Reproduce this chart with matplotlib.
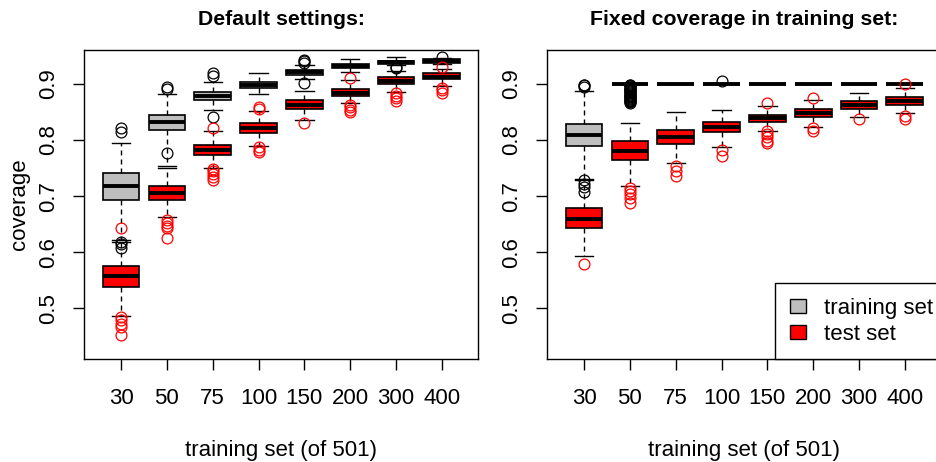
import matplotlib.pyplot as plt
from matplotlib.patches import Patch

plt.rcParams['font.family'] = ['Liberation Sans', 'DejaVu Sans']

categories = ['30', '50', '75', '100', '150', '200', '300', '400']

# Default settings: training set boxes
def_train_lo = [0.622, 0.754, 0.853, 0.881, 0.908, 0.921, 0.933, 0.935]
def_train_q1 = [0.693, 0.818, 0.871, 0.892, 0.9155, 0.9275, 0.935, 0.9373]
def_train_med = [0.718, 0.8325, 0.8785, 0.898, 0.920, 0.931, 0.938, 0.9403]
def_train_q3 = [0.7405, 0.844, 0.8855, 0.9035, 0.924, 0.935, 0.941, 0.9434]
def_train_hi = [0.795, 0.8815, 0.9036, 0.9185, 0.934, 0.9434, 0.947, 0.946]
def_train_out = [[0.821, 0.814, 0.618, 0.614, 0.608], [0.894, 0.890, 0.777],
                 [0.919, 0.913, 0.841], [], [0.943, 0.940, 0.937, 0.9005],
                 [], [0.930, 0.928], [0.9478]]

# Default settings: test set boxes
def_test_lo = [0.487, 0.6625, 0.7505, 0.789, 0.8355, 0.865, 0.886, 0.896]
def_test_q1 = [0.5373, 0.6933, 0.7732, 0.8118, 0.8545, 0.878, 0.8995, 0.9078]
def_test_med = [0.558, 0.7052, 0.782, 0.8206, 0.862, 0.884, 0.9053, 0.9124]
def_test_q3 = [0.5747, 0.7181, 0.791, 0.8296, 0.871, 0.890, 0.9115, 0.9185]
def_test_hi = [0.618, 0.750, 0.8165, 0.852, 0.8876, 0.9066, 0.923, 0.926]
def_test_out = [[0.643, 0.484, 0.479, 0.473, 0.467, 0.452],
                [0.657, 0.652, 0.647, 0.643, 0.625],
                [0.8207, 0.749, 0.744, 0.739, 0.734, 0.729],
                [0.859, 0.855, 0.7868, 0.7821, 0.778], [0.8307],
                [0.9096, 0.862, 0.858, 0.854, 0.850],
                [0.884, 0.879, 0.874, 0.870], [0.930, 0.893, 0.888, 0.883]]

# Fixed coverage: training set boxes
fix_train_lo = [0.7304, 0.9, 0.9, 0.9, 0.9, 0.9, 0.9, 0.9]
fix_train_q1 = [0.789, 0.9, 0.9, 0.9, 0.9, 0.9, 0.9, 0.9]
fix_train_med = [0.8095, 0.9, 0.9, 0.9, 0.9, 0.9, 0.9, 0.9]
fix_train_q3 = [0.829, 0.9, 0.9, 0.9, 0.9, 0.9, 0.9, 0.9]
fix_train_hi = [0.8868, 0.9, 0.9, 0.9, 0.9, 0.9, 0.9, 0.9]
fix_train_out = [[0.8985, 0.897, 0.895, 0.728, 0.722, 0.716, 0.708],
                 [0.8985, 0.897, 0.8955, 0.894, 0.8925, 0.891, 0.8895, 0.888,
                  0.8865, 0.885, 0.8835, 0.882, 0.8805, 0.879, 0.8775, 0.876,
                  0.8745, 0.873, 0.8715, 0.870, 0.8685, 0.867, 0.8655],
                 [], [0.9047], [], [], [], []]

# Fixed coverage: test set boxes
fix_test_lo = [0.5934, 0.7172, 0.7589, 0.7875, 0.8167, 0.8232, 0.8405, 0.847]
fix_test_q1 = [0.643, 0.7636, 0.7934, 0.8136, 0.8321, 0.8411, 0.8554, 0.8619]
fix_test_med = [0.6595, 0.7796, 0.8054, 0.8232, 0.8381, 0.8476, 0.8619, 0.8685]
fix_test_q3 = [0.6786, 0.7975, 0.8172, 0.8321, 0.844, 0.8542, 0.8685, 0.8756]
fix_test_hi = [0.729, 0.8304, 0.8493, 0.853, 0.8595, 0.8708, 0.8827, 0.8929]
fix_test_out = [[0.579], [0.714, 0.709, 0.703, 0.696, 0.6875],
                [0.7542, 0.744, 0.7363], [0.7827, 0.772],
                [0.8649, 0.8155, 0.8107, 0.8048, 0.7988, 0.7946],
                [0.8738, 0.8214, 0.8155], [0.8375], [0.8988, 0.8423, 0.8375]]

GRAY = '#BEBEBE'
RED = '#FF0000'
FS = 16


def make_stats(lo, q1, med, q3, hi, out):
    return [dict(whislo=a, q1=b, med=c, q3=d, whishi=e, fliers=f)
            for a, b, c, d, e, f in zip(lo, q1, med, q3, hi, out)]


def draw_boxes(ax, stats, fill, flier_col, z):
    ax.bxp(stats, positions=range(1, len(stats) + 1), widths=0.8,
           patch_artist=True, manage_ticks=False, capwidths=0.4, zorder=z,
           boxprops=dict(facecolor=fill, edgecolor='black', linewidth=1.2),
           medianprops=dict(color='black', linewidth=2.8, solid_capstyle='butt'),
           whiskerprops=dict(color='black', linewidth=1, linestyle=(0, (3.6, 2.9))),
           capprops=dict(color='black', linewidth=1),
           flierprops=dict(marker='o', markerfacecolor='none',
                           markeredgecolor=flier_col, markersize=7.8,
                           markeredgewidth=0.9))


def style_axes(ax, title):
    ax.set_xlim(0.19, 8.79)
    ax.set_ylim(0.41, 0.96)
    ax.set_xticks(range(1, 9))
    ax.set_xticklabels(categories)
    ax.set_yticks([0.5, 0.6, 0.7, 0.8, 0.9])
    ax.set_yticklabels(['0.5', '0.6', '0.7', '0.8', '0.9'], rotation=90, va='center')
    ax.tick_params(axis='both', length=8, width=1, labelsize=FS)
    ax.tick_params(axis='x', pad=13)
    ax.tick_params(axis='y', pad=10)
    ax.set_xlabel('training set (of 501)', fontsize=FS)
    ax.xaxis.set_label_coords(0.5, -0.261)
    ax.set_title(title, fontsize=15.3, fontweight='bold', pad=18)
    for sp in ax.spines.values():
        sp.set_linewidth(1)


fig = plt.figure(figsize=(9.36, 4.62), dpi=100)
ax1 = fig.add_axes([84 / 936, 103 / 462, 394 / 936, 309 / 462])
ax2 = fig.add_axes([547 / 936, 103 / 462, 394 / 936, 309 / 462])

draw_boxes(ax1, make_stats(def_train_lo, def_train_q1, def_train_med, def_train_q3,
                           def_train_hi, def_train_out), GRAY, 'black', 2)
draw_boxes(ax1, make_stats(def_test_lo, def_test_q1, def_test_med, def_test_q3,
                           def_test_hi, def_test_out), RED, RED, 3)
style_axes(ax1, 'Default settings:')
ax1.set_ylabel('coverage', fontsize=FS)
ax1.yaxis.set_label_coords(-0.136, 0.5)

draw_boxes(ax2, make_stats(fix_train_lo, fix_train_q1, fix_train_med, fix_train_q3,
                           fix_train_hi, fix_train_out), GRAY, 'black', 2)
draw_boxes(ax2, make_stats(fix_test_lo, fix_test_q1, fix_test_med, fix_test_q3,
                           fix_test_hi, fix_test_out), RED, RED, 3)
style_axes(ax2, 'Fixed coverage in training set:')

handles = [Patch(facecolor=GRAY, edgecolor='black', linewidth=1),
           Patch(facecolor=RED, edgecolor='black', linewidth=1)]
leg = ax2.legend(handles, ['training set', 'test set'], loc='lower left',
                 bbox_to_anchor=(0.579, 0), borderaxespad=0, fontsize=FS,
                 fancybox=False, framealpha=1, edgecolor='black',
                 handlelength=0.72, handleheight=0.6, handletextpad=0.85,
                 borderpad=0.65, labelspacing=0.22)
leg.get_frame().set_linewidth(1)
leg.set_zorder(10)

fig.savefig('out.png', dpi=100)
